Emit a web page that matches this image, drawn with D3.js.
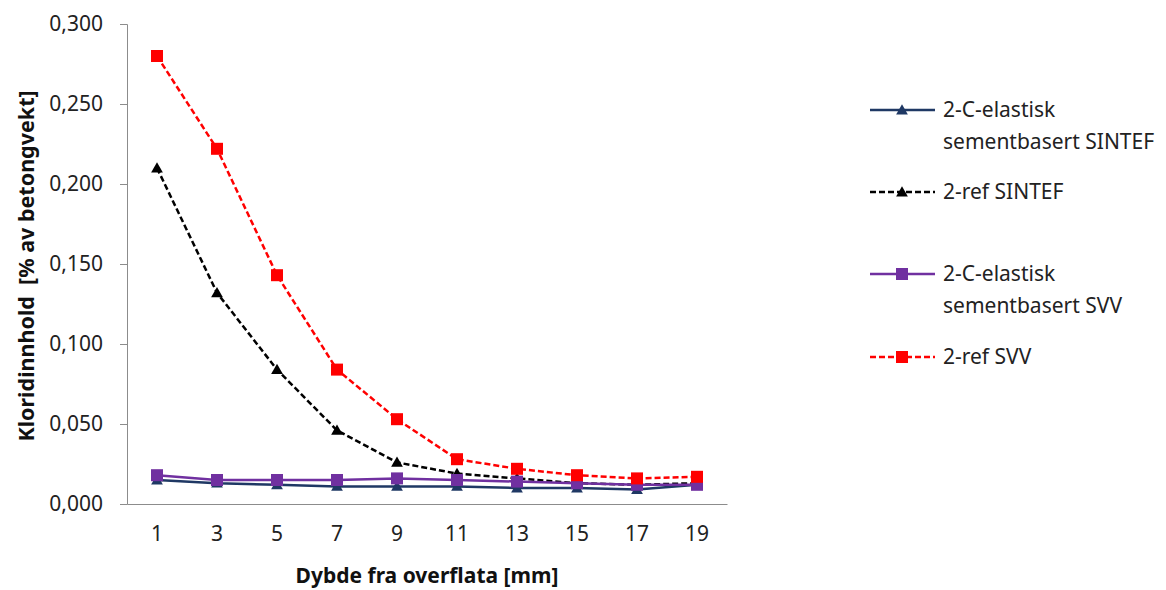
<!DOCTYPE html>
<html>
<head>
<meta charset="utf-8">
<script src="https://cdn.jsdelivr.net/npm/d3@7"></script>
<style>
  html, body { margin: 0; padding: 0; background: #ffffff; }
  svg { display: block; font-family: "Noto Sans", "Open Sans", sans-serif; }
</style>
</head>
<body>
<svg id="chart" width="1166" height="590"></svg>
<script>
// Depth below the surface (mm), one category per sample
const depths = ["1", "3", "5", "7", "9", "11", "13", "15", "17", "19"];

// Chloride content, % of concrete weight
const elastiskSintef = [0.015, 0.013, 0.012, 0.011, 0.011, 0.011, 0.010, 0.010, 0.009, 0.012];
const refSintef      = [0.210, 0.132, 0.084, 0.046, 0.026, 0.019, 0.016, 0.013, 0.012, 0.013];
const elastiskSvv    = [0.018, 0.015, 0.015, 0.015, 0.016, 0.015, 0.014, 0.013, 0.012, 0.012];
const refSvv         = [0.280, 0.222, 0.143, 0.084, 0.053, 0.028, 0.022, 0.018, 0.016, 0.017];

const yTicks = [0, 0.05, 0.10, 0.15, 0.20, 0.25, 0.30];

const seriesNames = [
  ["2-C-elastisk", "sementbasert SINTEF"],
  ["2-ref SINTEF"],
  ["2-C-elastisk", "sementbasert SVV"],
  ["2-ref SVV"]
];

const series = [
  { name: seriesNames[0], values: elastiskSintef, color: "#1F3864", dash: null,  marker: "triangle" },
  { name: seriesNames[1], values: refSintef,      color: "#000000", dash: "6,3", marker: "triangle" },
  { name: seriesNames[2], values: elastiskSvv,    color: "#7030A0", dash: null,  marker: "square" },
  { name: seriesNames[3], values: refSvv,         color: "#FF0000", dash: "6,3", marker: "square" }
];

const plot = { left: 127, right: 727, top: 24, bottom: 504 };
const svg = d3.select("#chart");

const x = d3.scaleBand().domain(depths).range([plot.left, plot.right]);
const y = d3.scaleLinear().domain([0, 0.3]).range([plot.bottom, plot.top]);
const cx = d => x(d) + x.bandwidth() / 2;

const axisColor = "#8C8C8C";
const textColor = "#222";
const fmt = v => d3.format(".3f")(v).replace(".", ",");

// Value axis
const yAxis = svg.append("g")
  .attr("transform", `translate(${plot.left},0)`)
  .call(d3.axisLeft(y).tickValues(yTicks).tickFormat(fmt).tickSizeOuter(0).tickSize(7).tickPadding(17));
yAxis.select(".domain").attr("stroke", axisColor);
yAxis.selectAll(".tick line").attr("stroke", axisColor);
yAxis.selectAll(".tick text")
  .attr("fill", textColor).attr("font-size", 21).attr("font-family", "'Noto Sans', sans-serif");

// Category axis
const xAxis = svg.append("g")
  .attr("transform", `translate(0,${plot.bottom})`)
  .call(d3.axisBottom(x).tickSize(0).tickSizeOuter(0).tickPadding(22));
xAxis.select(".domain").attr("stroke", axisColor);
xAxis.selectAll(".tick text")
  .attr("fill", textColor).attr("font-size", 21).attr("font-family", "'Noto Sans', sans-serif");

// Axis titles
svg.append("text")
  .attr("x", (plot.left + plot.right) / 2).attr("y", 583)
  .attr("text-anchor", "middle")
  .attr("font-size", 21).attr("font-weight", "bold").attr("fill", "#111")
  .text("Dybde fra overflata [mm]");

svg.append("text")
  .attr("transform", `translate(34,${(plot.top + plot.bottom) / 2 + 2}) rotate(-90)`)
  .attr("text-anchor", "middle")
  .attr("font-size", 21.5).attr("font-weight", "bold").attr("fill", "#111")
  .attr("xml:space", "preserve")
  .text("Kloridinnhold  [% av betongvekt]");

function drawMarker(g, type, px, py, color) {
  if (type === "square") {
    g.append("rect")
      .attr("x", px - 6).attr("y", py - 6).attr("width", 12).attr("height", 12)
      .attr("fill", color);
  } else {
    const sym = d3.symbol().type(d3.symbolTriangle).size(60);
    g.append("path")
      .attr("d", sym())
      .attr("transform", `translate(${px},${py + 1})`)
      .attr("fill", color);
  }
}

const line = d3.line().x((v, i) => cx(depths[i])).y(v => y(v));

// Series: line first, markers on top, in series order
series.forEach(s => {
  const g = svg.append("g");
  g.append("path")
    .attr("d", line(s.values))
    .attr("fill", "none")
    .attr("stroke", s.color)
    .attr("stroke-width", 2.5)
    .attr("stroke-dasharray", s.dash);
  s.values.forEach((v, i) => drawMarker(g, s.marker, cx(depths[i]), y(v), s.color));
});

// Legend
const legendRows = [110, 192, 274, 357];
series.forEach((s, k) => {
  const g = svg.append("g").attr("transform", `translate(0,${legendRows[k]})`);
  g.append("line")
    .attr("x1", 870).attr("x2", 935).attr("y1", 0).attr("y2", 0)
    .attr("stroke", s.color).attr("stroke-width", 2.5)
    .attr("stroke-dasharray", s.dash);
  drawMarker(g, s.marker, 902, 0, s.color);
  s.name.forEach((t, j) => {
    g.append("text")
      .attr("x", 943).attr("y", j * 32)
      .attr("dy", "0.35em")
      .attr("font-size", 21).attr("fill", textColor)
      .text(t);
  });
});
</script>
</body>
</html>
